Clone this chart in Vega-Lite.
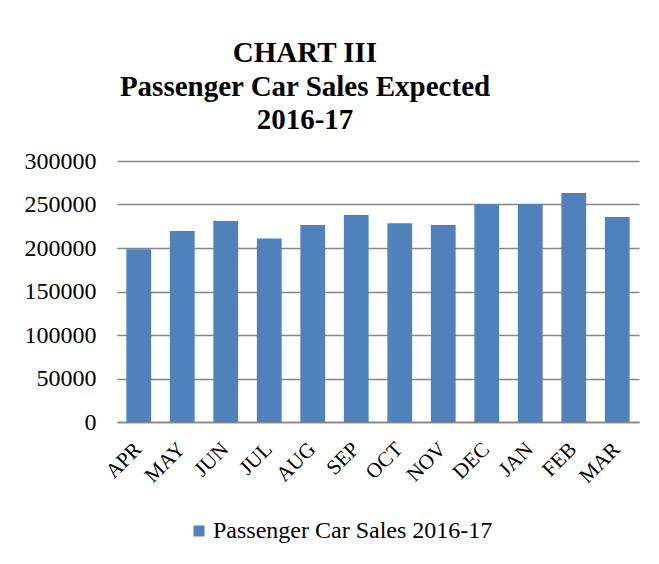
{
  "$schema": "https://vega.github.io/schema/vega-lite/v6.json",
  "width": 522,
  "height": 261,
  "autosize": {"type": "none"},
  "padding": {"left": 117, "top": 161, "right": 20, "bottom": 142},
  "background": "white",
  "title": {
    "text": ["CHART III", "Passenger Car Sales Expected", "2016-17"],
    "font": "Liberation Serif",
    "fontSize": 29,
    "fontWeight": "bold",
    "color": "black",
    "lineHeight": 33.5,
    "anchor": "middle",
    "dx": -73,
    "offset": 14
  },
  "data": {
    "values": [
      {"month": "APR", "sales": 198500, "series": "Passenger Car Sales 2016-17"},
      {"month": "MAY", "sales": 219500, "series": "Passenger Car Sales 2016-17"},
      {"month": "JUN", "sales": 231000, "series": "Passenger Car Sales 2016-17"},
      {"month": "JUL", "sales": 211000, "series": "Passenger Car Sales 2016-17"},
      {"month": "AUG", "sales": 226500, "series": "Passenger Car Sales 2016-17"},
      {"month": "SEP", "sales": 238000, "series": "Passenger Car Sales 2016-17"},
      {"month": "OCT", "sales": 228500, "series": "Passenger Car Sales 2016-17"},
      {"month": "NOV", "sales": 226500, "series": "Passenger Car Sales 2016-17"},
      {"month": "DEC", "sales": 250200, "series": "Passenger Car Sales 2016-17"},
      {"month": "JAN", "sales": 250600, "series": "Passenger Car Sales 2016-17"},
      {"month": "FEB", "sales": 263200, "series": "Passenger Car Sales 2016-17"},
      {"month": "MAR", "sales": 235600, "series": "Passenger Car Sales 2016-17"}
    ]
  },
  "mark": {"type": "bar"},
  "encoding": {
    "x": {
      "field": "month",
      "type": "nominal",
      "sort": null,
      "scale": {"paddingInner": 0.43, "paddingOuter": 0.215},
      "axis": {
        "title": null,
        "labelAngle": -45,
        "labelAlign": "right",
        "labelBaseline": "top",
        "labelFont": "Liberation Serif",
        "labelFontSize": 21,
        "labelColor": "black",
        "labelPadding": 16,
        "labelOffset": -8,
        "ticks": false,
        "domainColor": "#868686",
        "domainWidth": 1.5,
        "grid": false
      }
    },
    "y": {
      "field": "sales",
      "type": "quantitative",
      "scale": {"domain": [0, 300000]},
      "axis": {
        "title": null,
        "values": [0, 50000, 100000, 150000, 200000, 250000, 300000],
        "format": "d",
        "labelFont": "Liberation Serif",
        "labelFontSize": 24,
        "labelColor": "black",
        "labelPadding": 21,
        "ticks": false,
        "domain": false,
        "grid": true,
        "gridColor": "#868686",
        "gridWidth": 1.5
      }
    },
    "color": {
      "field": "series",
      "type": "nominal",
      "scale": {"range": ["#4F81BD"]},
      "legend": {
        "title": null,
        "orient": "none",
        "legendX": 70,
        "legendY": 358,
        "direction": "horizontal",
        "symbolType": "square",
        "symbolSize": 121,
        "symbolStrokeWidth": 0,
        "labelFont": "Liberation Serif",
        "labelFontSize": 24,
        "labelColor": "black",
        "labelLimit": 0,
        "labelOffset": 2
      }
    }
  },
  "config": {"view": {"stroke": null}}
}
